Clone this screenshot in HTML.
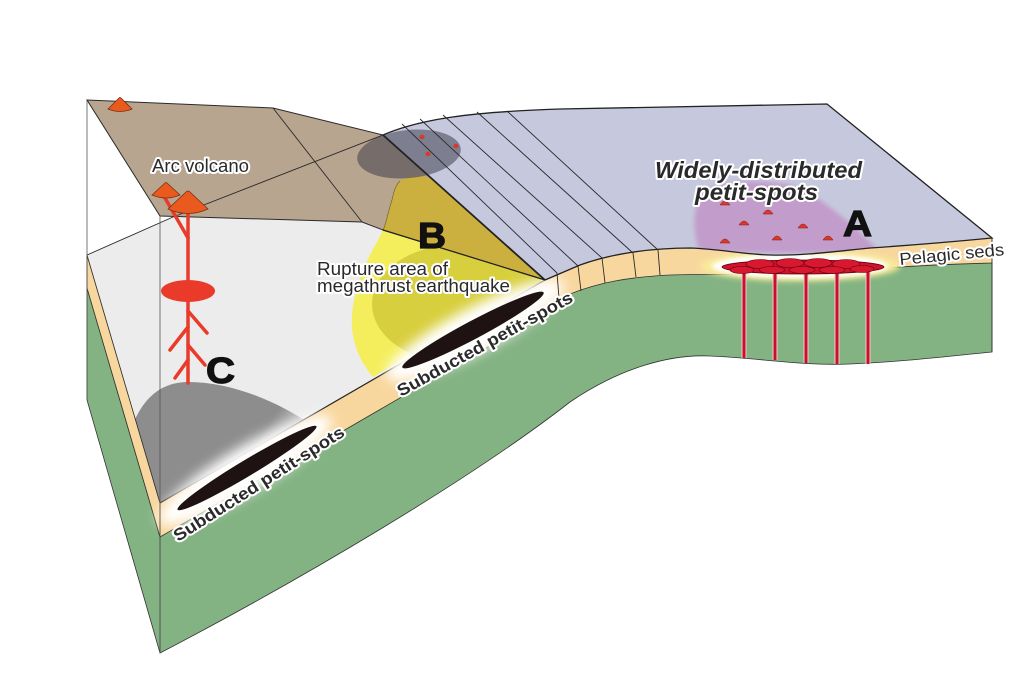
<!DOCTYPE html>
<html><head><meta charset="utf-8"><style>
html,body{margin:0;padding:0;background:#fff;}
svg{display:block;}
.lbl{font-family:"Liberation Sans",Arial,sans-serif;fill:#2a2a2a;stroke:#fff;stroke-width:4;stroke-linejoin:round;paint-order:stroke;}
.big{font-family:"Liberation Sans",Arial,sans-serif;font-weight:bold;fill:#111;stroke:#111;stroke-width:1.2;}
</style></head><body>
<svg width="1024" height="681" viewBox="0 0 1024 681" xmlns="http://www.w3.org/2000/svg">
<defs>
 <clipPath id="cBrown"><path d="M87,100 L273,108 L383,135 L545,280 L383,230 L362,222 L160,216 Z"/></clipPath>
 <clipPath id="cGray"><path d="M87,255 L173,217 L362,222 L383,230 L545,280 L160,503 Z"/></clipPath>
 <clipPath id="cBlue"><path d="M383,135 C420,119 470,112 560,109 L827,104 L992,238 C940,243 900,246 870,248 C830,252 800,256 770,255 C740,254 720,249 690,248 C650,248 610,254 580,265 L545,280 Z"/></clipPath>
 <clipPath id="cYellow"><path d="M400,181 C408,176 424,175 432,179 L545,280 L373,377 C360,362 350,340 352,315 C354,290 365,262 377,242 C385,228 388,212 392,200 C394,190 396,185 400,181 Z"/></clipPath>
 <filter id="b6" x="-50%" y="-50%" width="200%" height="200%"><feGaussianBlur stdDeviation="6"/></filter>
 <filter id="b3" x="-50%" y="-50%" width="200%" height="200%"><feGaussianBlur stdDeviation="3"/></filter>
 <filter id="b2" x="-50%" y="-50%" width="200%" height="200%"><feGaussianBlur stdDeviation="2"/></filter>
 <linearGradient id="gC" gradientUnits="userSpaceOnUse" x1="220" y1="400" x2="300" y2="455">
  <stop offset="0" stop-color="#8d8d8d"/><stop offset="0.55" stop-color="#8d8d8d"/><stop offset="1" stop-color="#e6e6e6"/>
 </linearGradient>
</defs>

<rect width="1024" height="681" fill="#fff"/>

<!-- front tan band (pelagic seds) -->
<path d="M160,503 L545,280 L580,265 C610,254 650,248 690,248 C720,249 740,254 770,255 C800,256 830,252 870,248 C900,246 940,243 992,238 L992,268 C960,269 920,270 860,275 C800,282 730,278 670,280 C630,282 600,287 570,300 C548,310 530,327 500,345 L160,542 Z" fill="#f8d79e"/>
<!-- front green -->
<path d="M160,537 L500,340 C530,322 548,305 570,294 C600,282 630,277 670,275 C730,273 800,277 860,270 C920,265 960,264 992,263 L992,352 C950,356 900,362 850,364 C800,366 760,358 710,356 C670,354 620,368 570,402 C470,480 300,580 160,653 Z" fill="#84b383" stroke="#333" stroke-width="0.8"/>

<!-- left face -->
<path d="M87,288 L160,537 L160,653 L87,400 Z" fill="#84b383" stroke="#333" stroke-width="0.8"/>
<path d="M87,255 L160,503 L160,537 L87,288 Z" fill="#f8d79e" stroke="#333" stroke-width="0.8"/>

<!-- light gray slab surface -->
<path d="M87,255 L173,217 L362,222 L383,230 L545,280 L160,503 Z" fill="#ececec"/>

<!-- C blob + yellow lower -->
<g clip-path="url(#cGray)">
 <path d="M120,520 L128,440 C138,400 160,382 188,382 C230,382 275,400 312,425 L262,470 L150,525 Z" fill="url(#gC)"/>
 <path d="M87,100 L620,100 L620,620 L87,620 Z" fill="#f4ee5d" clip-path="url(#cYellow)"/>
 <ellipse cx="460" cy="304" rx="88" ry="60" fill="#d8cf3e" clip-path="url(#cYellow)"/>
</g>

<!-- slab top line -->
<line x1="160" y1="503" x2="545" y2="280" stroke="#222" stroke-width="1.2"/>
<line x1="87" y1="255" x2="160" y2="503" stroke="#333" stroke-width="0.8"/>

<!-- white glow A -->
<ellipse cx="800" cy="266" rx="100" ry="15" fill="#f7ec9a" filter="url(#b3)"/>
<ellipse cx="800" cy="266" rx="88" ry="12" fill="#fff" filter="url(#b2)"/>

<!-- glows around subducted petit-spots -->
<ellipse cx="245" cy="470" rx="100" ry="22" transform="rotate(-31 245 470)" fill="#fff" filter="url(#b6)"/>
<ellipse cx="475" cy="330" rx="100" ry="22" transform="rotate(-28 475 330)" fill="#fff" filter="url(#b6)"/>
<ellipse cx="247" cy="468" rx="81" ry="8" transform="rotate(-31 247 468)" fill="#1e1212"/>
<ellipse cx="473" cy="330" rx="80" ry="9" transform="rotate(-28 473 330)" fill="#1e1212"/>

<!-- brown arc plate -->
<path d="M87,100 L273,108 L383,135 L545,280 L383,230 L362,222 L160,216 Z" fill="#b8a590"/>
<path d="M400,181 C408,176 424,175 432,179 L545,280 L373,377 C360,362 350,340 352,315 C354,290 365,262 377,242 C385,228 388,212 392,200 C394,190 396,185 400,181 Z" fill="#ccb03f" clip-path="url(#cBrown)"/>
<path d="M87,100 L273,108 L383,135 L545,280 L383,230 L362,222 L160,216 Z" fill="none" stroke="#2a2a2a" stroke-width="1"/>
<line x1="273" y1="108" x2="362" y2="222" stroke="#2a2a2a" stroke-width="0.9"/>
<polyline points="87,255 173,217 383,135" fill="none" stroke="#2a2a2a" stroke-width="0.9"/>
<path d="M400,181 C396,185 394,190 392,200 C388,212 385,228 383,230" fill="none" stroke="#6b5a20" stroke-width="0.6"/>

<!-- blue plate -->
<path d="M383,135 C420,119 470,112 560,109 L827,104 L992,238 C940,243 900,246 870,248 C830,252 800,256 770,255 C740,254 720,249 690,248 C650,248 610,254 580,265 L545,280 Z" fill="#c6c8dd"/>

<!-- purple widely distributed area -->
<path d="M700,252 C692,232 692,205 704,192 C720,180 760,179 790,185 C822,196 852,224 882,254 Z" fill="#c29ccb" clip-path="url(#cBlue)" filter="url(#b2)"/>

<!-- dark ellipse overlay -->
<ellipse cx="409" cy="154" rx="52" ry="24" transform="rotate(-6 409 154)" fill="#333344" fill-opacity="0.5"/>
<ellipse cx="422" cy="137" rx="2.6" ry="2.2" fill="#d83a2a"/>
<ellipse cx="456" cy="146" rx="2.6" ry="2.2" fill="#d83a2a"/>
<ellipse cx="428" cy="154" rx="2.6" ry="2.2" fill="#d83a2a"/>

<!-- lines on blue plate -->
<g stroke="#2a2a2a" stroke-width="0.9" fill="none">
 <line x1="402" y1="124" x2="557" y2="273"/>
 <line x1="420" y1="119" x2="578" y2="266"/>
 <line x1="443" y1="115" x2="602" y2="258"/>
 <line x1="477" y1="112" x2="633" y2="253"/>
 <line x1="507" y1="111" x2="658" y2="250"/>
 <line x1="557" y1="273" x2="559" y2="298"/>
 <line x1="578" y1="266" x2="581" y2="291"/>
 <line x1="602" y1="258" x2="605" y2="283"/>
 <line x1="633" y1="253" x2="636" y2="277"/>
 <line x1="658" y1="250" x2="660" y2="275"/>
</g>
<path d="M383,135 C420,119 470,112 560,109 L827,104 L992,238 C940,243 900,246 870,248 C830,252 800,256 770,255 C740,254 720,249 690,248 C650,248 610,254 580,265 L545,280" fill="none" stroke="#222" stroke-width="1.3"/>
<line x1="383" y1="135" x2="545" y2="280" stroke="#222" stroke-width="1.8"/>
<line x1="383" y1="230" x2="545" y2="280" stroke="#222" stroke-width="1.2"/>
<line x1="992" y1="238" x2="992" y2="352" stroke="#333" stroke-width="0.9"/>

<!-- block edges -->
<line x1="87" y1="100" x2="87" y2="400" stroke="#555" stroke-width="0.8"/>
<line x1="160" y1="216" x2="160" y2="653" stroke="#555" stroke-width="0.8"/>

<!-- red dots on purple -->
<g fill="#d63a2a" stroke="#8a1a10" stroke-width="0.5">
 <path d="M720,205 Q725,197 730,205 Z"/>
 <path d="M763,214 Q768,206 773,214 Z"/>
 <path d="M739,225 Q744,217 749,225 Z"/>
 <path d="M798,228 Q803,220 808,228 Z"/>
 <path d="M720,243 Q725,235 730,243 Z"/>
 <path d="M772,240 Q777,232 782,240 Z"/>
 <path d="M823,240 Q828,232 833,240 Z"/>
</g>

<!-- A red intrusion -->
<g stroke="#f3c7c7" stroke-width="5">
 <line x1="744" y1="270" x2="744" y2="358"/>
 <line x1="775" y1="270" x2="775" y2="360"/>
 <line x1="806" y1="270" x2="806" y2="363"/>
 <line x1="837" y1="270" x2="837" y2="364"/>
 <line x1="868" y1="270" x2="868" y2="364"/>
</g>
<g stroke="#c8102e" stroke-width="3">
 <line x1="744" y1="270" x2="744" y2="358"/>
 <line x1="775" y1="270" x2="775" y2="360"/>
 <line x1="806" y1="270" x2="806" y2="363"/>
 <line x1="837" y1="270" x2="837" y2="364"/>
 <line x1="868" y1="270" x2="868" y2="364"/>
</g>
<ellipse cx="803" cy="267" rx="81" ry="7" fill="#d0122c" stroke="#6a0010" stroke-width="0.8"/>
<g fill="#d8182f" stroke="#6a0010" stroke-width="0.6">
 <ellipse cx="760" cy="264" rx="14" ry="4.5"/>
 <ellipse cx="790" cy="263" rx="14" ry="4.5"/>
 <ellipse cx="818" cy="263" rx="14" ry="4.5"/>
 <ellipse cx="846" cy="264" rx="14" ry="4.5"/>
 <ellipse cx="742" cy="270" rx="12" ry="3.5"/>
 <ellipse cx="772" cy="270" rx="13" ry="3.5"/>
 <ellipse cx="802" cy="270" rx="13" ry="3.5"/>
 <ellipse cx="832" cy="270" rx="13" ry="3.5"/>
 <ellipse cx="862" cy="269" rx="12" ry="3.5"/>
</g>

<!-- magma system C -->
<g stroke="#ea3a2a" stroke-width="3.5" stroke-linecap="round" fill="none">
 <line x1="165" y1="198" x2="188" y2="238"/>
 <line x1="188" y1="205" x2="188" y2="383"/>
 <line x1="188" y1="311" x2="207" y2="333"/>
 <line x1="188" y1="327" x2="170" y2="350"/>
 <line x1="188" y1="345" x2="205" y2="365"/>
 <line x1="188" y1="360" x2="175" y2="378"/>
</g>
<ellipse cx="188" cy="291" rx="27" ry="11" fill="#ea3a2a"/>

<!-- volcanoes -->
<g fill="#ea5a1e" stroke="#7a3010" stroke-width="0.8">
 <path d="M108,109 L119,98 Q120,97 121,98 L132,109 Q120,114 108,109 Z"/>
 <path d="M152,195 L165,183 Q166,182 167,183 L180,195 Q166,201 152,195 Z"/>
 <path d="M168,209 L186,192 Q188,190 190,192 L208,209 Q188,218 168,209 Z"/>
</g>

<!-- labels -->
<text class="lbl" x="152" y="172" font-size="18" textLength="97" lengthAdjust="spacingAndGlyphs">Arc volcano</text>
<text class="lbl" x="317" y="275" font-size="18" textLength="131" lengthAdjust="spacingAndGlyphs">Rupture area of</text>
<text class="lbl" x="317" y="292" font-size="18" textLength="193" lengthAdjust="spacingAndGlyphs">megathrust earthquake</text>
<text class="lbl" x="900" y="265" font-size="17" transform="rotate(-5.4 900 265)" textLength="105" lengthAdjust="spacingAndGlyphs">Pelagic seds</text>
<text class="lbl" x="655" y="178" font-size="23" font-weight="bold" font-style="italic" textLength="207" lengthAdjust="spacingAndGlyphs">Widely-distributed</text>
<text class="lbl" x="695" y="200" font-size="23" font-weight="bold" font-style="italic" textLength="123" lengthAdjust="spacingAndGlyphs">petit-spots</text>
<text class="lbl" font-size="17" font-weight="bold" transform="translate(178,542) rotate(-32.5)" textLength="199" lengthAdjust="spacingAndGlyphs">Subducted petit-spots</text>
<text class="lbl" font-size="17" font-weight="bold" transform="translate(401,397) rotate(-29)" textLength="198" lengthAdjust="spacingAndGlyphs">Subducted petit-spots</text>

<text class="big" x="843" y="236" font-size="36" textLength="29" lengthAdjust="spacingAndGlyphs">A</text>
<text class="big" x="418" y="248" font-size="36" textLength="28" lengthAdjust="spacingAndGlyphs">B</text>
<text class="big" x="206" y="383" font-size="36" textLength="29" lengthAdjust="spacingAndGlyphs">C</text>
</svg>
</body></html>
